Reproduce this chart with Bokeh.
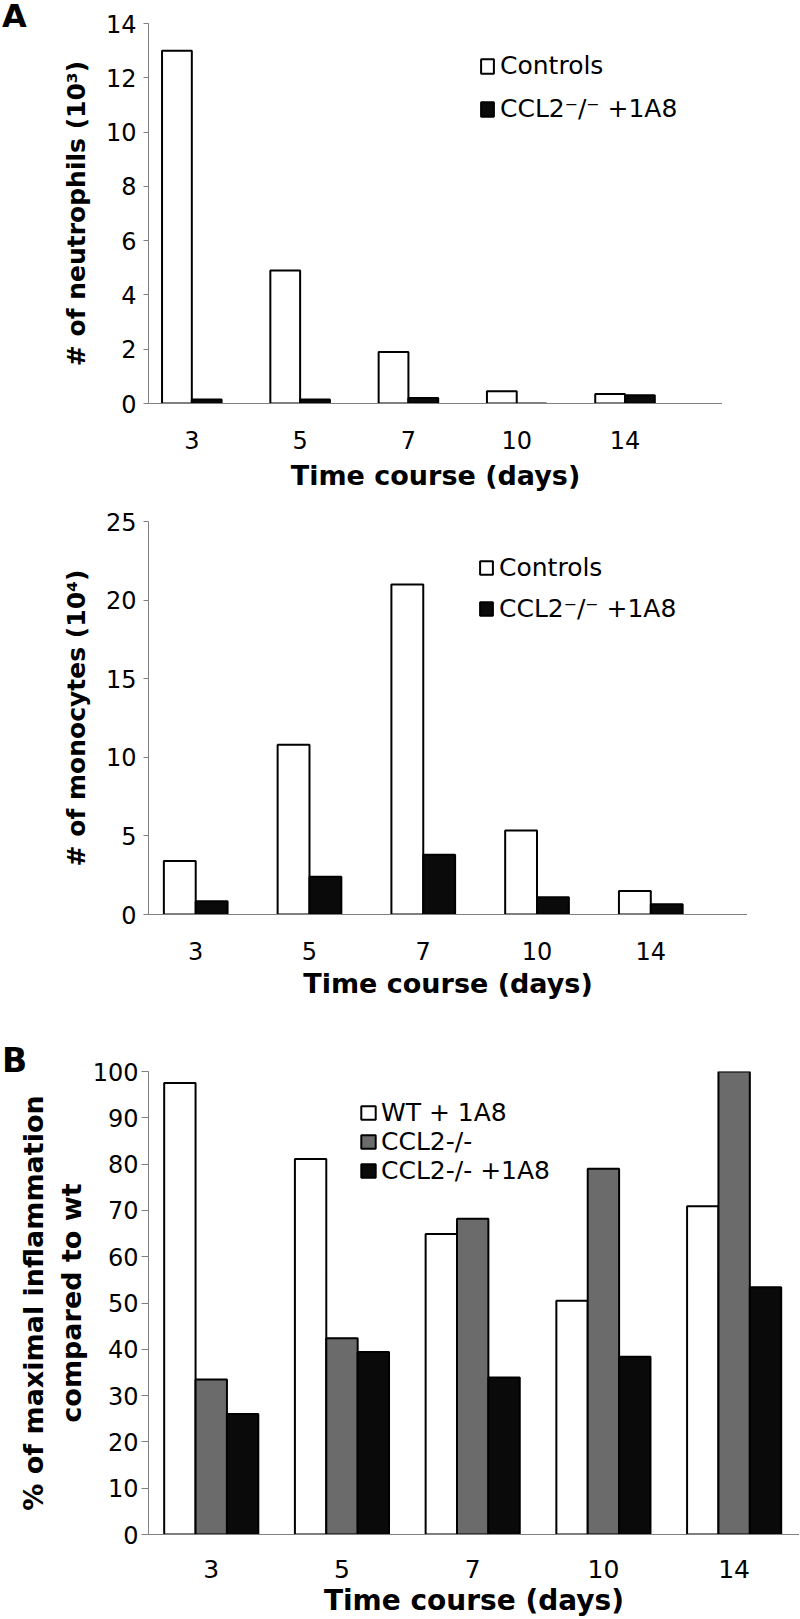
from bokeh.plotting import figure
from bokeh.models import (ColumnDataSource, Range1d, FixedTicker, Legend,
                          LegendItem, Div)
from bokeh.layouts import column
from bokeh.transform import dodge
from bokeh.embed import file_html
from bokeh.resources import INLINE

# ---------------- data ----------------
days = ["3", "5", "7", "10", "14"]

neut_controls = [13.0, 4.9, 1.9, 0.45, 0.35]
neut_ccl2_1a8 = [0.15, 0.15, 0.2, 0.0, 0.3]

mono_controls = [3.4, 10.8, 21.0, 5.35, 1.5]
mono_ccl2_1a8 = [0.85, 2.4, 3.8, 1.1, 0.65]

wt_1a8 = [97.5, 81.1, 64.9, 50.5, 70.9]
ccl2_ko = [33.5, 42.4, 68.2, 79.0, 100.2]
ccl2_ko_1a8 = [26.0, 39.4, 33.9, 38.4, 53.4]

neut_ticks = [0, 2, 4, 6, 8, 10, 12, 14]
mono_ticks = [0, 5, 10, 15, 20, 25]
infl_ticks = [0, 10, 20, 30, 40, 50, 60, 70, 80, 90, 100]

FONT = "DejaVu Sans"
AXIS_GREY = "#808080"
GREY_FILL = "#6b6b6b"
BLACK_FILL = "#0a0a0a"

idx = list(range(len(days)))
overrides = {i: d for i, d in enumerate(days)}


def base_fig(width, height, xr, yr, yticks, borders):
    l, r, t, b = borders
    p = figure(width=width, height=height, x_range=Range1d(*xr),
               y_range=Range1d(*yr), output_backend="svg",
               toolbar_location=None, min_border_left=l, min_border_right=r,
               min_border_top=t, min_border_bottom=b)
    p.xgrid.visible = False
    p.ygrid.visible = False
    p.outline_line_color = None
    p.background_fill_color = "white"
    p.border_fill_color = "white"
    ax = p.yaxis[0]
    ax.ticker = FixedTicker(ticks=yticks)
    ax.axis_line_color = AXIS_GREY
    ax.major_tick_line_color = AXIS_GREY
    ax.major_tick_in = 0
    ax.minor_tick_line_color = None
    ax.major_label_text_color = "black"
    ax.major_label_text_font = FONT
    ax.axis_label_text_font = FONT
    ax.axis_label_text_font_style = "bold"
    ax.axis_label_text_color = "black"
    bx = p.xaxis[0]
    bx.ticker = FixedTicker(ticks=idx)
    bx.major_label_overrides = overrides
    bx.axis_line_color = AXIS_GREY
    bx.major_tick_line_color = None
    bx.minor_tick_line_color = None
    bx.major_label_text_color = "black"
    bx.major_label_text_font = FONT
    bx.axis_label = "Time course (days)"
    bx.axis_label_text_font = FONT
    bx.axis_label_text_font_style = "bold"
    bx.axis_label_text_color = "black"
    return p


def style_legend(leg, size, gw, gh, spacing, standoff):
    leg.padding = 0
    leg.margin = 0
    leg.border_line_color = None
    leg.background_fill_alpha = 0
    leg.label_text_font = FONT
    leg.label_text_font_size = size
    leg.label_text_color = "black"
    leg.glyph_width = gw
    leg.glyph_height = gh
    leg.label_height = gh
    leg.spacing = spacing
    leg.label_standoff = standoff


# ---------------- A1: neutrophils ----------------
w1 = 0.275
src1 = ColumnDataSource(dict(idx=idx, ctrl=neut_controls, ko=neut_ccl2_1a8))
p1 = base_fig(722, 497, (-0.40, 4.90), (0, 14), neut_ticks, (140, 0, 23, 94))
r1a = p1.vbar(x=dodge("idx", -w1 / 2), top="ctrl", width=w1, bottom=0,
              source=src1, fill_color="white", line_color="black", line_width=2)
r1b = p1.vbar(x=dodge("idx", w1 / 2), top="ko", width=w1, bottom=0,
              source=src1, fill_color=BLACK_FILL, line_color="black", line_width=2)
p1.yaxis.axis_label = "# of neutrophils (10³)"
p1.yaxis.axis_label_text_font_size = "25px"
p1.yaxis.major_label_text_font_size = "24px"
p1.yaxis.major_tick_out = 5
p1.yaxis.major_label_standoff = 7
p1.yaxis.axis_label_standoff = 12
p1.xaxis.major_label_text_font_size = "24px"
p1.xaxis.major_label_standoff = 21
p1.xaxis.axis_label_text_font_size = "27px"
p1.xaxis.axis_label_standoff = 8
leg1 = Legend(items=[LegendItem(label="Controls", renderers=[r1a]),
                     LegendItem(label="CCL2⁻/⁻ +1A8", renderers=[r1b])],
              location=(331, 280))
style_legend(leg1, "25px", 16, 18, 14, 5)
p1.add_layout(leg1)

# ---------------- A2: monocytes ----------------
w2 = 0.28
src2 = ColumnDataSource(dict(idx=idx, ctrl=mono_controls, ko=mono_ccl2_1a8))
p2 = base_fig(747, 504, (-0.415, 4.85), (0, 25), mono_ticks, (141, 0, 24, 87))
r2a = p2.vbar(x=dodge("idx", -w2 / 2), top="ctrl", width=w2, bottom=0,
              source=src2, fill_color="white", line_color="black", line_width=2)
r2b = p2.vbar(x=dodge("idx", w2 / 2), top="ko", width=w2, bottom=0,
              source=src2, fill_color=BLACK_FILL, line_color="black", line_width=2)
p2.yaxis.axis_label = "# of monocytes (10⁴)"
p2.yaxis.axis_label_text_font_size = "25px"
p2.yaxis.major_label_text_font_size = "24px"
p2.yaxis.major_tick_out = 5
p2.yaxis.major_label_standoff = 7
p2.yaxis.axis_label_standoff = 12
p2.xaxis.major_label_text_font_size = "24px"
p2.xaxis.major_label_standoff = 21
p2.xaxis.axis_label_text_font_size = "27px"
p2.xaxis.axis_label_standoff = 5
leg2 = Legend(items=[LegendItem(label="Controls", renderers=[r2a]),
                     LegendItem(label="CCL2⁻/⁻ +1A8", renderers=[r2b])],
              location=(330, 291))
style_legend(leg2, "25px", 16, 17, 12, 5)
p2.add_layout(leg2)

# ---------------- B: inflammation ----------------
w3 = 0.24
src3 = ColumnDataSource(dict(idx=idx, wt=wt_1a8, ko=ccl2_ko, ko1a8=ccl2_ko_1a8))
p3 = base_fig(799, 618, (-0.48, 4.50), (0, 100), infl_ticks, (148, 0, 70, 84))
r3a = p3.vbar(x=dodge("idx", -w3), top="wt", width=w3, bottom=0, source=src3,
              fill_color="white", line_color="black", line_width=2)
r3b = p3.vbar(x=dodge("idx", 0), top="ko", width=w3, bottom=0, source=src3,
              fill_color=GREY_FILL, line_color="black", line_width=2)
r3c = p3.vbar(x=dodge("idx", w3), top="ko1a8", width=w3, bottom=0, source=src3,
              fill_color=BLACK_FILL, line_color="black", line_width=2)
p3.yaxis.axis_label = "% of maximal inflammation\ncompared to wt"
p3.yaxis.axis_label_text_font_size = "27px"
p3.yaxis.major_label_text_font_size = "24px"
p3.yaxis.major_tick_out = 7
p3.yaxis.major_label_standoff = 3
p3.yaxis.axis_label_standoff = 3
p3.xaxis.major_label_text_font_size = "25px"
p3.xaxis.major_label_standoff = 19
p3.xaxis.axis_label_text_font_size = "28px"
p3.xaxis.axis_label_standoff = 3
leg3 = Legend(items=[LegendItem(label="WT + 1A8", renderers=[r3a]),
                     LegendItem(label="CCL2-/-", renderers=[r3b]),
                     LegendItem(label="CCL2-/- +1A8", renderers=[r3c])],
              location=(211, 349))
style_legend(leg3, "25px", 18, 17, 0, 4)
p3.add_layout(leg3)

panel_style = {"position": "absolute", "font-family": FONT,
               "font-weight": "bold", "line-height": "1", "color": "black",
               "margin": "0", "padding": "0"}
divA = Div(text="A", width=30, height=34,
           styles=dict(panel_style, left="2px", top="0px", **{"font-size": "32px"}))
divB = Div(text="B", width=30, height=34,
           styles=dict(panel_style, left="2px", top="1044px", **{"font-size": "33px"}))

layout = column(p1, p2, p3, divA, divB)
open("out.html", "w").write(file_html(layout, INLINE))
